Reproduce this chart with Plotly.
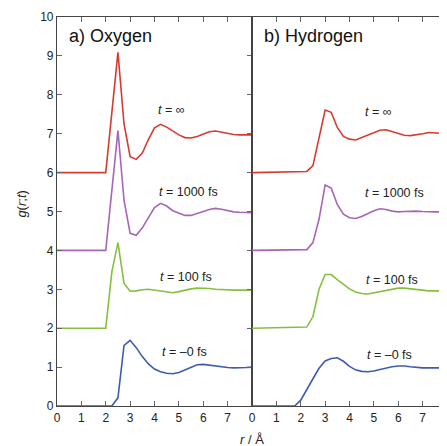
import plotly.graph_objects as go

# ---------------- data ----------------
# a) Oxygen
r_ox_0 = [0, 2.25, 2.5, 2.75, 3.0, 3.25, 3.5, 3.75, 4.0, 4.25, 4.5, 4.75, 5.0, 5.25, 5.5, 5.75, 6.0, 6.25, 6.5, 6.75, 7.0, 7.25, 7.5, 7.75, 8.0]
g_ox_0 = [0, 0, 0.21, 1.56, 1.69, 1.5, 1.27, 1.08, 0.95, 0.88, 0.84, 0.83, 0.86, 0.93, 1.01, 1.06, 1.07, 1.05, 1.02, 1.0, 0.99, 0.98, 0.98, 0.99, 1.0]

r_ox_100 = [0, 2.0, 2.25, 2.5, 2.75, 3.0, 3.25, 3.5, 3.75, 4.0, 4.25, 4.5, 4.75, 5.0, 5.25, 5.5, 5.75, 6.0, 6.25, 6.5, 6.75, 7.0, 7.25, 7.5, 7.75, 8.0]
g_ox_100 = [2, 2, 3.45, 4.2, 3.15, 2.95, 2.96, 2.99, 3.0, 2.98, 2.95, 2.93, 2.91, 2.94, 2.98, 3.01, 3.03, 3.03, 3.02, 3.0, 2.99, 2.98, 2.98, 2.98, 2.98, 2.98]

r_ox_1000 = [0, 2.0, 2.5, 2.75, 3.0, 3.25, 3.5, 3.75, 4.0, 4.25, 4.5, 4.75, 5.0, 5.25, 5.5, 5.75, 6.0, 6.25, 6.5, 6.75, 7.0, 7.25, 7.5, 7.75, 8.0]
g_ox_1000 = [4, 4, 7.08, 5.29, 4.44, 4.39, 4.58, 4.85, 5.1, 5.21, 5.14, 5.02, 4.95, 4.9, 4.9, 4.94, 5.0, 5.05, 5.08, 5.06, 5.02, 4.99, 4.98, 4.98, 4.97]

r_ox_inf = [0, 2.0, 2.5, 2.75, 3.0, 3.25, 3.5, 3.75, 4.0, 4.25, 4.5, 4.75, 5.0, 5.25, 5.5, 5.75, 6.0, 6.25, 6.5, 6.75, 7.0, 7.25, 7.5, 7.75, 8.0]
g_ox_inf = [6, 6, 9.09, 7.25, 6.41, 6.34, 6.5, 6.85, 7.15, 7.24, 7.17, 7.06, 6.97, 6.9, 6.89, 6.93, 7.0, 7.05, 7.07, 7.04, 7.0, 6.98, 6.97, 6.97, 6.97]

# b) Hydrogen
r_h_0 = [0, 1.75, 2.0, 2.25, 2.5, 2.75, 3.0, 3.25, 3.5, 3.75, 4.0, 4.25, 4.5, 4.75, 5.0, 5.25, 5.5, 5.75, 6.0, 6.25, 6.5, 6.75, 7.0, 7.25, 7.5, 7.75, 8.0]
g_h_0 = [0, 0, 0.15, 0.41, 0.7, 0.97, 1.16, 1.22, 1.24, 1.15, 1.02, 0.93, 0.89, 0.88, 0.9, 0.94, 0.98, 1.01, 1.03, 1.03, 1.01, 0.99, 0.98, 0.98, 0.98, 0.98, 0.98]

r_h = [0, 2.25, 2.5, 2.75, 3.0, 3.25, 3.5, 3.75, 4.0, 4.25, 4.5, 4.75, 5.0, 5.25, 5.5, 5.75, 6.0, 6.25, 6.5, 6.75, 7.0, 7.25, 7.5, 7.75, 8.0]
g_h_100 = [2, 2.03, 2.3, 3.0, 3.38, 3.38, 3.25, 3.12, 3.01, 2.93, 2.89, 2.88, 2.91, 2.94, 2.98, 3.01, 3.03, 3.03, 3.01, 2.99, 2.97, 2.96, 2.96, 2.96, 2.96]
g_h_1000 = [4, 4.02, 4.2, 4.8, 5.68, 5.6, 5.18, 4.93, 4.84, 4.82, 4.87, 4.95, 5.02, 5.07, 5.05, 5.01, 4.99, 5.0, 5.01, 5.01, 5.0, 4.99, 4.99, 4.99, 4.99]
g_h_inf = [6, 6.03, 6.18, 6.92, 7.61, 7.55, 7.16, 6.93, 6.86, 6.84, 6.9, 6.97, 7.04, 7.09, 7.1, 7.05, 7.0, 6.96, 6.95, 6.97, 7.0, 7.03, 7.02, 7.0, 7.0]

labels = ["<i>t</i> = –0 fs", "<i>t</i> = 100 fs", "<i>t</i> = 1000 fs", "<i>t</i> = ∞"]
label_pos_ox = [(5.22, 1.39), (5.29, 3.31), (5.38, 5.51), (4.7, 7.61)]
label_pos_h = [(5.66, 1.32), (5.76, 3.24), (5.83, 5.48), (5.18, 7.57)]
panel_titles = ["a) Oxygen", "b) Hydrogen"]
x_ticks_left = [0, 1, 2, 3, 4, 5, 6, 7]
x_ticks_right = [0, 1, 2, 3, 4, 5, 6, 7, 8]
y_ticks = [0, 1, 2, 3, 4, 5, 6, 7, 8, 9, 10]

colors = ["#3f5bb0", "#86bf3f", "#a865b5", "#d63b2f"]

# ---------------- figure ----------------
fig = go.Figure()
ox = [(r_ox_0, g_ox_0), (r_ox_100, g_ox_100), (r_ox_1000, g_ox_1000), (r_ox_inf, g_ox_inf)]
hy = [(r_h_0, g_h_0), (r_h, g_h_100), (r_h, g_h_1000), (r_h, g_h_inf)]
for (rr, gg), c in zip(ox, colors):
    fig.add_trace(go.Scatter(x=rr, y=gg, mode="lines", line=dict(color=c, width=1.6),
                             xaxis="x", yaxis="y", showlegend=False))
for (rr, gg), c in zip(hy, colors):
    fig.add_trace(go.Scatter(x=rr, y=gg, mode="lines", line=dict(color=c, width=1.6),
                             xaxis="x2", yaxis="y2", showlegend=False))

ann = []
for lab, (x, y) in zip(labels, label_pos_ox):
    ann.append(dict(x=x, y=y, xref="x", yref="y", text=lab, showarrow=False,
                    font=dict(size=12.5, color="#222")))
for lab, (x, y) in zip(labels, label_pos_h):
    ann.append(dict(x=x, y=y, xref="x2", yref="y2", text=lab, showarrow=False,
                    font=dict(size=12.5, color="#222")))
ann.append(dict(x=0.025, y=0.95, xref="paper", yref="paper", text=panel_titles[0],
                showarrow=False, xanchor="left", yanchor="middle", font=dict(size=18, color="#111")))
ann.append(dict(x=0.525, y=0.95, xref="paper", yref="paper", text=panel_titles[1],
                showarrow=False, xanchor="left", yanchor="middle", font=dict(size=18, color="#111")))
ann.append(dict(x=0.5, y=-0.085, xref="paper", yref="paper", text="<i>r</i> / Å",
                showarrow=False, xanchor="center", yanchor="middle", font=dict(size=13, color="#222")))
ann.append(dict(x=-0.09, y=0.52, xref="paper", yref="paper", text="<i>g</i>(<i>r</i>;<i>t</i>)",
                showarrow=False, textangle=-90, xanchor="center", yanchor="middle",
                font=dict(size=13, color="#222")))

axis_common = dict(showgrid=False, zeroline=False, showline=True, linecolor="#444", linewidth=1.2,
                   ticks="inside", ticklen=5, tickcolor="#666", tickwidth=1,
                   tickfont=dict(size=12, color="#222", family="Liberation Sans, Arial, sans-serif"))

# page body has an 8px margin, so the figure is sized to fill the rest of the window
fig.update_layout(
    width=439, height=438,
    margin=dict(l=49, r=0, t=9, b=40),
    plot_bgcolor="white", paper_bgcolor="white",
    font=dict(family="Liberation Sans, Arial, sans-serif"),
    xaxis=dict(domain=[0, 0.5], range=[0, 8], tickvals=x_ticks_left, mirror="ticks", anchor="y", **axis_common),
    xaxis2=dict(domain=[0.5, 1], range=[0, 8], tickvals=x_ticks_right, mirror="ticks", anchor="y2", **axis_common),
    yaxis=dict(domain=[0, 1], range=[0, 10], tickvals=y_ticks, mirror="ticks", anchor="x", **axis_common),
    yaxis2=dict(domain=[0, 1], range=[0, 10], tickvals=y_ticks, mirror=True, side="right",
                showticklabels=False, anchor="x2", **axis_common),
    annotations=ann,
)

fig.write_html("out.html")
